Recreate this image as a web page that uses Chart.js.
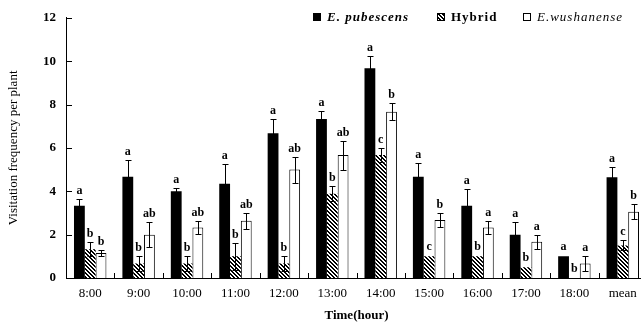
<!DOCTYPE html>
<html>
<head>
<meta charset="utf-8">
<script src="https://cdn.jsdelivr.net/npm/chart.js@4/dist/chart.umd.min.js"></script>
<style>
  html, body { margin: 0; padding: 0; background: #fff; overflow: hidden; }
  #wrap { width: 660px; height: 327px; }
</style>
</head>
<body>
<div id="wrap"><canvas id="grafico"></canvas></div>
<script>
const horas = ['8:00', '9:00', '10:00', '11:00', '12:00', '13:00', '14:00', '15:00', '16:00', '17:00', '18:00', 'mean'];

const pubescens    = [3.33, 4.67, 4.00, 4.35, 6.67, 7.33, 9.67, 4.67, 3.33, 2.00, 1.00, 4.65];
const pubescensErr = [0.33, 0.77, 0.15, 0.89, 0.66, 0.37, 0.57, 0.62, 0.79, 0.56, 0, 0.49];
const pubescensLet = ['a', 'a', 'a', 'a', 'a', 'a', 'a', 'a', 'a', 'a', 'a', 'a'];

const hibrido      = [1.33, 0.67, 0.67, 1.00, 0.67, 3.88, 5.67, 1.00, 1.00, 0.50, 0, 1.50];
const hibridoErr   = [0.33, 0.33, 0.33, 0.62, 0.33, 0.35, 0.33, 0, 0, 0, 0, 0.23];
const hibridoLet   = ['b', 'b', 'b', 'b', 'b', 'b', 'c', 'c', 'b', 'b', 'b', 'c'];

const wushanense    = [1.15, 2.00, 2.33, 2.64, 5.00, 5.67, 7.67, 2.67, 2.33, 1.67, 0.67, 3.06];
const wushanenseErr = [0.15, 0.56, 0.31, 0.36, 0.60, 0.67, 0.39, 0.33, 0.31, 0.33, 0.33, 0.36];
const wushanenseLet = ['b', 'ab', 'ab', 'ab', 'ab', 'ab', 'b', 'b', 'a', 'a', 'a', 'b'];

const yTicks = [0, 2, 4, 6, 8, 10, 12];

const serif = '"Liberation Serif", "Times New Roman", serif';

// hachura diagonal do hibrido
function hachura() {
  const c = document.createElement('canvas');
  c.width = 4; c.height = 4;
  const g = c.getContext('2d');
  const img = g.createImageData(4, 4);
  for (let y = 0; y < 4; y++) {
    for (let x = 0; x < 4; x++) {
      const k = (y * 4 + x) * 4;
      const escuro = ((x - y + 8) % 4) < 2;
      const v = escuro ? 0 : 255;
      img.data[k] = v; img.data[k + 1] = v; img.data[k + 2] = v; img.data[k + 3] = 255;
    }
  }
  g.putImageData(img, 0, 0);
  return g.createPattern(c, 'repeat');
}
const padrao = hachura();

const erros = [pubescensErr, hibridoErr, wushanenseErr];
const letras = [pubescensLet, hibridoLet, wushanenseLet];

const barrasDeErro = {
  id: 'barrasDeErro',
  afterDatasetsDraw(chart) {
    const c = chart.ctx;
    const y = chart.scales.y;
    c.save();
    c.strokeStyle = '#000';
    c.lineWidth = 1;
    c.fillStyle = '#000';
    c.font = 'bold 12px ' + serif;
    c.textAlign = 'center';
    c.textBaseline = 'alphabetic';
    chart.data.datasets.forEach((ds, d) => {
      const meta = chart.getDatasetMeta(d);
      meta.data.forEach((bar, i) => {
        const v = ds.data[i];
        const e = erros[d][i];
        const x = Math.round(bar.x) + 0.5;
        let topo = y.getPixelForValue(v);
        if (e > 0) {
          const yt = Math.round(y.getPixelForValue(v + e)) + 0.5;
          const yb = Math.round(y.getPixelForValue(v - e)) + 0.5;
          c.beginPath();
          c.moveTo(x, yt); c.lineTo(x, yb);
          c.moveTo(x - 3, yt); c.lineTo(x + 3, yt);
          c.moveTo(x - 3, yb); c.lineTo(x + 3, yb);
          c.stroke();
          topo = yt;
        }
        c.fillText(letras[d][i], bar.x, topo - 6);
      });
    });
    c.restore();
  }
};

const marcasInternas = {
  id: 'marcasInternas',
  afterDraw(chart) {
    const c = chart.ctx;
    const { x, y } = chart.scales;
    const area = chart.chartArea;
    c.save();
    c.strokeStyle = '#000';
    c.lineWidth = 1;
    c.beginPath();
    yTicks.forEach(t => {
      const py = Math.round(y.getPixelForValue(t)) + 0.5;
      c.moveTo(area.left, py); c.lineTo(area.left + 6, py);
    });
    for (let i = 1; i < horas.length; i++) {
      const px = Math.round((x.getPixelForValue(i - 1) + x.getPixelForValue(i)) / 2) + 0.5;
      c.moveTo(px, area.bottom); c.lineTo(px, area.bottom - 5);
    }
    c.stroke();
    c.restore();
  }
};

const legenda = {
  id: 'legenda',
  afterDraw(chart) {
    const c = chart.ctx;
    const area = chart.chartArea;
    const itens = [
      { dx: 247, fill: '#000', font: 'italic bold 13px ' + serif, text: 'E. pubescens' },
      { dx: 371, fill: padrao, font: 'bold 13px ' + serif, text: 'Hybrid' },
      { dx: 457, fill: '#fff', font: 'italic 13px ' + serif, text: 'E.wushanense' }
    ];
    c.save();
    c.textBaseline = 'alphabetic';
    c.textAlign = 'left';
    itens.forEach(it => {
      const bx = area.left + it.dx;
      c.fillStyle = it.fill;
      c.fillRect(bx, 13, 7, 7);
      c.strokeStyle = '#000';
      c.lineWidth = 1;
      c.strokeRect(bx + 0.5, 13.5, 7, 7);
      c.fillStyle = '#000';
      c.font = it.font;
      if ('letterSpacing' in c) c.letterSpacing = '1px';
      c.fillText(it.text, bx + 14, 21);
    });
    c.restore();
  }
};

Chart.defaults.color = '#000';
Chart.defaults.font.family = serif;

const ctx = document.getElementById('grafico').getContext('2d');
const chart = new Chart(ctx, {
  type: 'bar',
  data: {
    labels: horas,
    datasets: [
      { label: 'E. pubescens', data: pubescens, backgroundColor: '#000', borderColor: '#000', borderWidth: 0 },
      { label: 'Hybrid', data: hibrido, backgroundColor: padrao, borderColor: '#000', borderWidth: 0 },
      { label: 'E.wushanense', data: wushanense, backgroundColor: '#fff', borderColor: '#000', borderWidth: 1 }
    ]
  },
  options: {
    responsive: true,
    maintainAspectRatio: false,
    animation: false,
    layout: { padding: { top: 14, right: 13, left: 0, bottom: 0 } },
    datasets: { bar: { categoryPercentage: 0.67, barPercentage: 1.0 } },
    scales: {
      x: {
        grid: { display: false, drawTicks: false },
        border: { color: '#000', width: 1 },
        ticks: { padding: 8, font: { size: 13 }, maxRotation: 0 },
        title: { display: true, text: 'Time(hour)', font: { size: 13, weight: 'bold' }, padding: { top: 0, bottom: 4 } },
        afterFit: s => { s.width; s.height = 49; }
      },
      y: {
        min: 0,
        max: 12,
        grid: { display: false, drawTicks: false },
        border: { color: '#000', width: 1 },
        ticks: { stepSize: 2, padding: 10, font: { size: 13, weight: 'bold' } },
        title: { display: true, text: 'Visitation frequency per plant', font: { size: 13 }, padding: { top: 6, bottom: 0 } },
        afterFit: s => { s.width = 66; }
      }
    },
    plugins: {
      legend: { display: false },
      tooltip: { enabled: false }
    }
  },
  plugins: [barrasDeErro, marcasInternas, legenda]
});
</script>
</body>
</html>
